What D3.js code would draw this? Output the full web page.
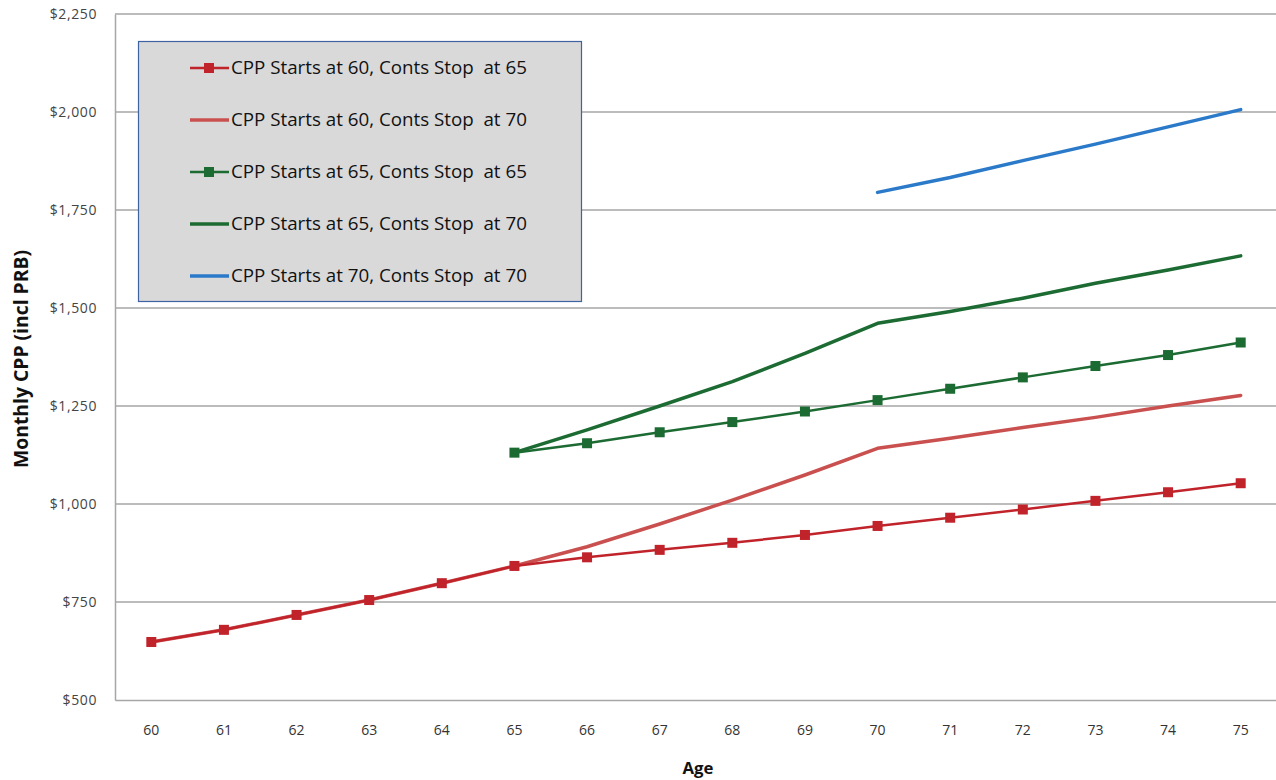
<!DOCTYPE html>
<html><head><meta charset="utf-8">
<script src="https://cdn.jsdelivr.net/npm/d3@7"></script>
<style>body{margin:0;background:#fff;} text{font-family:"Open Sans","Liberation Sans",sans-serif;}</style>
</head><body>
<svg id="chart" width="1276" height="780"></svg>
<script>
const ages = [60,61,62,63,64,65,66,67,68,69,70,71,72,73,74,75];
const yTicks = [500,750,1000,1250,1500,1750,2000,2250];
const s60_65 = [648,679,717,755,798,842,864,883,901,921,944,965,986,1008,1030,1053];
const s60_70 = [648,679,717,755,798,842,891,949,1010,1074,1142,1168,1195,1221,1250,1277];
const s65_65 = [null,null,null,null,null,1131,1155,1183,1209,1236,1265,1294,1323,1352,1380,1412];
const s65_70 = [null,null,null,null,null,1131,1189,1250,1312,1384,1461,1491,1525,1563,1597,1633];
const s70_70 = [null,null,null,null,null,null,null,null,null,null,1795,1833,1876,1918,1962,2006];
const seriesNames = ["CPP Starts at 60, Conts Stop  at 65","CPP Starts at 60, Conts Stop  at 70","CPP Starts at 65, Conts Stop  at 65","CPP Starts at 65, Conts Stop  at 70","CPP Starts at 70, Conts Stop  at 70"];

const series = [
  {name: seriesNames[0], values: s60_65, color:"#c1232b", width:2.5, marker:true},
  {name: seriesNames[1], values: s60_70, color:"#c9504f", width:3.5, marker:false},
  {name: seriesNames[2], values: s65_65, color:"#1c6b32", width:2.5, marker:true},
  {name: seriesNames[3], values: s65_70, color:"#1c6b32", width:3.5, marker:false},
  {name: seriesNames[4], values: s70_70, color:"#2a7ac9", width:3.5, marker:false}
];

const svg = d3.select("#chart");
const L = 115, R = 1277, T = 14, B = 700;
const x = d3.scaleBand().domain(ages).range([L, R]);
const y = d3.scaleLinear().domain([500, 2250]).range([B, T]);

// gridlines
svg.append("g").selectAll("line").data(yTicks.slice(1)).join("line")
  .attr("x1", L).attr("x2", R).attr("y1", d=>y(d)).attr("y2", d=>y(d))
  .attr("stroke", "#a6a6a6").attr("stroke-width", 1.5);

// axes
const yAxis = d3.axisLeft(y).tickValues(yTicks).tickSize(0).tickPadding(18)
  .tickFormat(d => "$" + d3.format(",")(d));
const gy = svg.append("g").attr("transform", `translate(${L},0)`).call(yAxis);
gy.select(".domain").attr("stroke", "#a6a6a6").attr("stroke-width", 1.5);
gy.selectAll("text").attr("font-size", 14).attr("fill", "#444").attr("letter-spacing", 0.6).attr("font-family","Open Sans, sans-serif");

const xAxis = d3.axisBottom(x).tickSize(0).tickPadding(25);
const gx = svg.append("g").attr("transform", `translate(0,${B})`).call(xAxis);
gx.select(".domain").attr("stroke", "#a6a6a6").attr("stroke-width", 1.5);
gx.selectAll("text").attr("font-size", 14).attr("fill", "#333").attr("font-family","Open Sans, sans-serif");

function fitWidth(sel, target) {
  const w = sel.node().getComputedTextLength();
  const fs = parseFloat(sel.attr("font-size"));
  sel.attr("font-size", fs * target / w);
}

// titles
const ageT = svg.append("text").attr("x", 698).attr("y", 774).attr("text-anchor","middle")
  .attr("font-size", 17).attr("font-weight","bold").attr("fill","#111").text("Age");
fitWidth(ageT, 31);
const yT = svg.append("text").attr("transform","translate(28,359) rotate(-90)").attr("text-anchor","middle")
  .attr("font-size", 17).attr("font-weight","bold").attr("fill","#111").text("Monthly CPP (incl PRB)");
fitWidth(yT, 218);

// lines
const cx = d => x(d) + x.bandwidth()/2;
const line = d3.line().defined(d => d.v != null).x(d => cx(d.a)).y(d => y(d.v));
const drawOrder = [1,0,3,2,4];
drawOrder.forEach(i => {
  const s = series[i];
  const pts = ages.map((a,j) => ({a, v: s.values[j]}));
  svg.append("path").datum(pts).attr("d", line).attr("fill","none")
    .attr("stroke", s.color).attr("stroke-width", s.width).attr("stroke-linejoin","round").attr("stroke-linecap","round");
  if (s.marker) {
    svg.append("g").selectAll("rect").data(pts.filter(d=>d.v!=null)).join("rect")
      .attr("x", d => cx(d.a)-5).attr("y", d => y(d.v)-5).attr("width",10).attr("height",10)
      .attr("fill", s.color);
  }
});

// legend
const lg = svg.append("g");
lg.append("rect").attr("x",138.5).attr("y",41.5).attr("width",443).attr("height",260)
  .attr("fill","#d9d9d9").attr("stroke","#3f63a0").attr("stroke-width",1.2);
series.forEach((s,i) => {
  const yy = 68 + i*52;
  lg.append("line").attr("x1",190).attr("x2",229).attr("y1",yy).attr("y2",yy)
    .attr("stroke", s.color).attr("stroke-width", s.width);
  if (s.marker) lg.append("rect").attr("x",204).attr("y",yy-5).attr("width",10).attr("height",10).attr("fill",s.color);
  const t = lg.append("text").attr("x",231).attr("y",yy+6).attr("font-size",17).attr("fill","#111")
    .attr("xml:space","preserve").style("white-space","pre").text(s.name);
  fitWidth(t, 296);
});
</script>
</body></html>
